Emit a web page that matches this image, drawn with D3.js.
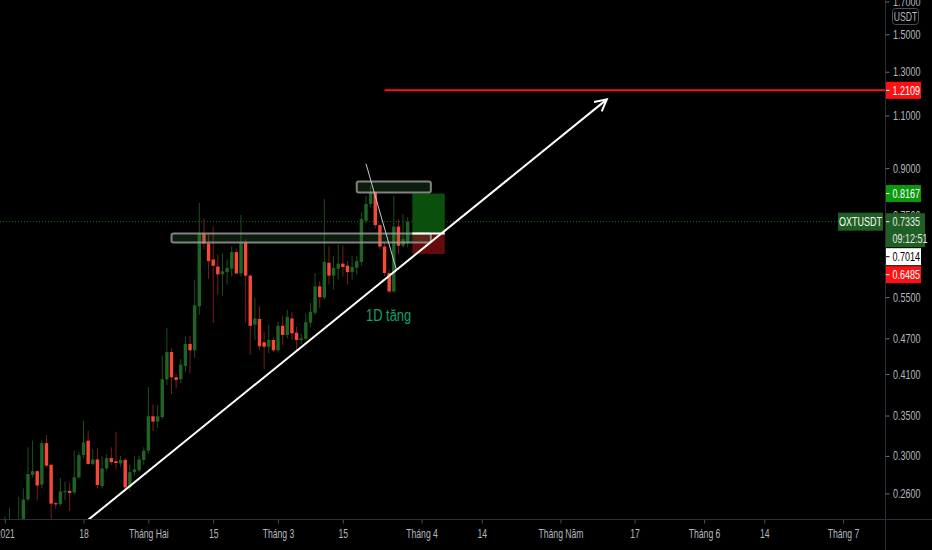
<!DOCTYPE html>
<html>
<head>
<meta charset="utf-8">
<script src="https://cdn.jsdelivr.net/npm/d3@7"></script>
<style>
  html, body { margin: 0; padding: 0; background: #000; overflow: hidden; }
  svg { display: block; }
  text { font-family: "Liberation Sans", Arial, sans-serif; }
</style>
</head>
<body>
<div id="chart"></div>
<script>
// daily OXT/USDT candles
const dates = [
  '2021-01-01','2021-01-02','2021-01-03','2021-01-04','2021-01-05','2021-01-06','2021-01-07','2021-01-08',
  '2021-01-09','2021-01-10','2021-01-11','2021-01-12','2021-01-13','2021-01-14','2021-01-15','2021-01-16',
  '2021-01-17','2021-01-18','2021-01-19','2021-01-20','2021-01-21','2021-01-22','2021-01-23','2021-01-24',
  '2021-01-25','2021-01-26','2021-01-27','2021-01-28','2021-01-29','2021-01-30','2021-01-31','2021-02-01',
  '2021-02-02','2021-02-03','2021-02-04','2021-02-05','2021-02-06','2021-02-07','2021-02-08','2021-02-09',
  '2021-02-10','2021-02-11','2021-02-12','2021-02-13','2021-02-14','2021-02-15','2021-02-16','2021-02-17',
  '2021-02-18','2021-02-19','2021-02-20','2021-02-21','2021-02-22','2021-02-23','2021-02-24','2021-02-25',
  '2021-02-26','2021-02-27','2021-02-28','2021-03-01','2021-03-02','2021-03-03','2021-03-04','2021-03-05',
  '2021-03-06','2021-03-07','2021-03-08','2021-03-09','2021-03-10','2021-03-11','2021-03-12','2021-03-13',
  '2021-03-14','2021-03-15','2021-03-16','2021-03-17','2021-03-18','2021-03-19','2021-03-20','2021-03-21',
  '2021-03-22','2021-03-23','2021-03-24','2021-03-25','2021-03-26','2021-03-27','2021-03-28','2021-03-29'
];
const openPrices = [
  0.228,0.226,0.233,0.222,0.234,0.254,0.279,0.283, 0.269,0.315,0.290,0.2505,0.2495,0.262,0.2625,0.261,
  0.2765,0.301,0.318,0.291,0.296,0.2675,0.286,0.2975, 0.294,0.2915,0.2955,0.266,0.282,0.284,0.2955,0.306,
  0.349,0.342,0.348,0.402,0.446,0.405,0.402,0.423, 0.460,0.449,0.531,0.701,0.675,0.635,0.618,0.600,
  0.605,0.613,0.653,0.602,0.677,0.597,0.495,0.506, 0.463,0.455,0.467,0.449,0.493,0.476,0.507,0.480,
  0.467,0.469,0.499,0.518,0.573,0.549,0.627,0.597, 0.613,0.625,0.620,0.605,0.615,0.629,0.736,0.785,
  0.820,0.724,0.667,0.603,0.562,0.720,0.669,0.677
];
const highPrices = [
  0.238,0.246,0.234,0.257,0.265,0.310,0.318,0.284, 0.318,0.325,0.291,0.2515,0.276,0.272,0.271,0.306,
  0.305,0.343,0.330,0.308,0.309,0.300,0.302,0.310, 0.329,0.300,0.298,0.290,0.300,0.300,0.310,0.390,
  0.365,0.364,0.440,0.489,0.453,0.410,0.434,0.473, 0.474,0.588,0.788,0.743,0.700,0.720,0.647,0.650,
  0.635,0.668,0.662,0.753,0.686,0.600,0.548,0.531, 0.482,0.495,0.473,0.501,0.511,0.524,0.520,0.491,
  0.479,0.517,0.538,0.603,0.584,0.800,0.668,0.643, 0.673,0.670,0.631,0.643,0.643,0.760,0.810,0.842,
  0.822,0.729,0.677,0.611,0.810,0.741,0.755,0.746
];
const lowPrices = [
  0.222,0.221,0.216,0.218,0.231,0.252,0.276,0.253, 0.265,0.287,0.235,0.245,0.248,0.2535,0.243,0.259,
  0.275,0.298,0.290,0.289,0.265,0.265,0.284,0.290, 0.285,0.288,0.262,0.262,0.278,0.282,0.290,0.303,
  0.330,0.334,0.345,0.393,0.380,0.388,0.396,0.413, 0.411,0.436,0.514,0.660,0.590,0.498,0.555,0.552,
  0.577,0.595,0.600,0.595,0.499,0.441,0.467,0.449, 0.418,0.444,0.446,0.445,0.458,0.470,0.467,0.449,
  0.460,0.467,0.490,0.514,0.527,0.545,0.577,0.566, 0.588,0.595,0.577,0.588,0.600,0.620,0.730,0.775,
  0.715,0.660,0.596,0.558,0.558,0.648,0.665,0.665
];
const closePrices = [
  0.232,0.233,0.226,0.234,0.254,0.280,0.283,0.268, 0.315,0.289,0.250,0.2495,0.262,0.2625,0.2605,0.2765,
  0.301,0.316,0.291,0.296,0.2685,0.286,0.2975,0.293, 0.292,0.2955,0.266,0.282,0.285,0.296,0.306,0.349,
  0.342,0.349,0.402,0.446,0.405,0.401,0.425,0.460, 0.449,0.533,0.701,0.675,0.631,0.620,0.600,0.607,
  0.615,0.653,0.602,0.677,0.597,0.493,0.507,0.456, 0.455,0.467,0.449,0.493,0.476,0.510,0.479,0.467,
  0.470,0.500,0.520,0.573,0.550,0.629,0.597,0.615, 0.625,0.617,0.605,0.617,0.631,0.741,0.785,0.820,
  0.724,0.667,0.603,0.562,0.720,0.669,0.686,0.7335
];

// axes
const timeTicks = ['2021-01-01','2021-01-18','2021-02-01','2021-02-15','2021-03-01','2021-03-15',
  '2021-04-01','2021-04-14','2021-05-01','2021-05-17','2021-06-01','2021-06-14','2021-07-01'];
const timeTickLabels = ['2021','18','Tháng Hai','15','Tháng 3','15','Tháng 4','14','Tháng Năm','17','Tháng 6','14','Tháng 7'];
const priceTicks = [0.26, 0.30, 0.35, 0.41, 0.47, 0.55, 0.75, 0.90, 1.10, 1.30, 1.50, 1.70];

// drawings
const zoneTop = ['2021-03-18', '2021-04-03', 0.855, 0.820];
const zoneMid = ['2021-02-06', '2021-04-03', 0.7012, 0.6776];
const positionDates = ['2021-03-30', '2021-04-06'];
const targetPrice = 0.8167;
const entryPrice = 0.7014;
const stopPrice = 0.6485;
const lastPrice = 0.7335;
const resistancePrice = 1.2109;
const resistanceStart = '2021-03-24';
const arrowStart = ['2021-01-19', 0.235];
const arrowEnd = ['2021-05-11', 1.17];
const breakLine = [['2021-03-20', 0.915], ['2021-03-26T14:00', 0.61]];
const noteText = '1D tăng';
const notePos = ['2021-03-20', 0.502];
const symbol = 'OXTUSDT';
const countdown = '09:12:51';

const draw = () => {
    const dimensions = {
        width: 932,
        height: 550,
        plotWidth: 885.5,
        plotHeight: 519.5,
    }
    // the screenshot is horizontally squeezed, so are its glyphs
    const squeeze = 'scale(0.72, 1)';

    const parse = d3.utcParse('%Y-%m-%d');
    const parseAny = s => s.length > 10 ? d3.utcParse('%Y-%m-%dT%H:%M')(s) : parse(s);

    const candles = dates.map((d, i) => ({
        date: parse(d),
        open: openPrices[i],
        high: highPrices[i],
        low: lowPrices[i],
        close: closePrices[i],
    }));

    const svg = d3.select('#chart')
        .append('svg')
        .attr('width', dimensions.width)
        .attr('height', dimensions.height)
        .style('background', '#000');

    svg.append('defs').append('clipPath')
        .attr('id', 'plot-clip')
        .append('rect')
        .attr('width', dimensions.plotWidth)
        .attr('height', dimensions.plotHeight);

    // scales
    const xScale = d3.scaleUtc()
        .domain([parse('2021-01-01'), parse('2021-07-01')])
        .range([4.8, 843]);

    const yScale = d3.scaleLog()
        .domain([0.2349, 1.7096])
        .range([520, 0]);

    const plot = svg.append('g').attr('clip-path', 'url(#plot-clip)');

    // last price dotted line
    plot.append('line')
        .attr('x1', 0).attr('x2', dimensions.plotWidth)
        .attr('y1', yScale(lastPrice)).attr('y2', yScale(lastPrice))
        .attr('stroke', '#1f6b24')
        .attr('stroke-width', 1)
        .attr('stroke-dasharray', '1 2');

    // candles
    const up = d => d.close >= d.open;
    const bodyWidth = 3.4;

    plot.append('g').selectAll('line')
        .data(candles)
        .join('line')
        .attr('x1', d => xScale(d.date))
        .attr('x2', d => xScale(d.date))
        .attr('y1', d => yScale(d.high))
        .attr('y2', d => yScale(d.low))
        .attr('stroke', d => up(d) ? '#1c4f20' : '#7a1c1c')
        .attr('stroke-width', 1);

    plot.append('g').selectAll('rect')
        .data(candles)
        .join('rect')
        .attr('x', d => xScale(d.date) - bodyWidth / 2)
        .attr('y', d => yScale(Math.max(d.open, d.close)))
        .attr('width', bodyWidth)
        .attr('height', d => Math.max(1.2, Math.abs(yScale(d.open) - yScale(d.close))))
        .attr('fill', d => up(d) ? '#1e6424' : '#f7493b');

    // long position tool
    const px0 = xScale(parse(positionDates[0]));
    const px1 = xScale(parse(positionDates[1]));
    plot.append('rect')
        .attr('x', px0).attr('width', px1 - px0)
        .attr('y', yScale(targetPrice))
        .attr('height', yScale(entryPrice) - yScale(targetPrice))
        .attr('fill', '#0b4f0d');
    plot.append('rect')
        .attr('x', px0).attr('width', px1 - px0)
        .attr('y', yScale(entryPrice))
        .attr('height', yScale(stopPrice) - yScale(entryPrice))
        .attr('fill', '#640b0b');

    // zones
    plot.append('g').selectAll('rect')
        .data([zoneTop, zoneMid])
        .join('rect')
        .attr('x', d => xScale(parse(d[0])))
        .attr('width', d => xScale(parse(d[1])) - xScale(parse(d[0])))
        .attr('y', d => yScale(d[2]))
        .attr('height', d => yScale(d[3]) - yScale(d[2]))
        .attr('rx', 2)
        .attr('fill', 'rgba(56,142,60,0.2)')
        .attr('stroke', 'rgba(160,160,160,0.8)')
        .attr('stroke-width', 2);

    plot.append('line')
        .attr('x1', px0).attr('x2', px1)
        .attr('y1', yScale(entryPrice)).attr('y2', yScale(entryPrice))
        .attr('stroke', '#fff')
        .attr('stroke-width', 2);

    // resistance line
    plot.append('line')
        .attr('x1', xScale(parse(resistanceStart))).attr('x2', dimensions.plotWidth)
        .attr('y1', yScale(resistancePrice)).attr('y2', yScale(resistancePrice))
        .attr('stroke', '#ff1010')
        .attr('stroke-width', 2);

    // break line
    plot.append('line')
        .attr('x1', xScale(parseAny(breakLine[0][0]))).attr('y1', yScale(breakLine[0][1]))
        .attr('x2', xScale(parseAny(breakLine[1][0]))).attr('y2', yScale(breakLine[1][1]))
        .attr('stroke', '#c8c8c8')
        .attr('stroke-width', 1);

    // trend arrow
    const a0 = [xScale(parse(arrowStart[0])), yScale(arrowStart[1])];
    const a1 = [xScale(parse(arrowEnd[0])), yScale(arrowEnd[1])];
    plot.append('line')
        .attr('x1', a0[0]).attr('y1', a0[1])
        .attr('x2', a1[0]).attr('y2', a1[1])
        .attr('stroke', '#fff')
        .attr('stroke-width', 2);

    const along = d3.interpolate(a0, a1);
    const g0 = along(0.505), g1 = along(0.535);
    plot.append('line')
        .attr('x1', g0[0]).attr('y1', g0[1])
        .attr('x2', g1[0]).attr('y2', g1[1])
        .attr('stroke', '#6a6a6a')
        .attr('stroke-width', 2);

    const angle = Math.atan2(a1[1] - a0[1], a1[0] - a0[0]);
    const wing = 13, spread = Math.PI / 6.5;
    const headPath = d3.path();
    headPath.moveTo(a1[0] - wing * Math.cos(angle - spread), a1[1] - wing * Math.sin(angle - spread));
    headPath.lineTo(a1[0], a1[1]);
    headPath.lineTo(a1[0] - wing * Math.cos(angle + spread), a1[1] - wing * Math.sin(angle + spread));
    plot.append('path')
        .attr('d', headPath.toString())
        .attr('fill', 'none')
        .attr('stroke', '#fff')
        .attr('stroke-width', 2);

    plot.append('text')
        .attr('transform', `translate(${xScale(parse(notePos[0]))}, ${yScale(notePos[1])}) scale(0.76, 1)`)
        .attr('fill', '#14a06a')
        .style('font-size', '17px')
        .text(noteText);

    // frame lines
    svg.append('line')
        .attr('x1', 0).attr('x2', dimensions.width)
        .attr('y1', dimensions.plotHeight).attr('y2', dimensions.plotHeight)
        .attr('stroke', '#2a2e39');
    svg.append('line')
        .attr('x1', dimensions.plotWidth).attr('x2', dimensions.plotWidth)
        .attr('y1', 0).attr('y2', dimensions.height)
        .attr('stroke', '#2a2e39');

    // time axis
    const xAxis = d3.axisBottom(xScale)
        .tickValues(timeTicks.map(parse))
        .tickFormat((d, i) => timeTickLabels[i])
        .tickSize(4)
        .tickPadding(6);

    const xAxisGroup = svg.append('g')
        .attr('transform', `translate(0, ${dimensions.plotHeight})`)
        .call(xAxis);
    xAxisGroup.select('.domain').remove();
    xAxisGroup.selectAll('line').attr('stroke', '#4a4d57');
    xAxisGroup.selectAll('text')
        .attr('fill', '#b4b7bf')
        .attr('transform', squeeze)
        .style('font-size', '12px');

    // price axis
    const yAxis = d3.axisRight(yScale)
        .tickValues(priceTicks)
        .tickFormat(d3.format('.4f'))
        .tickSize(4)
        .tickPadding(3);

    const yAxisGroup = svg.append('g')
        .attr('transform', `translate(${dimensions.plotWidth}, 0)`)
        .call(yAxis);
    yAxisGroup.select('.domain').remove();
    yAxisGroup.selectAll('line').attr('stroke', '#6a6d77');
    yAxisGroup.selectAll('text')
        .attr('x', 0)
        .attr('transform', `translate(7.5, 0) ${squeeze}`)
        .attr('fill', '#b4b7bf')
        .style('font-size', '12.5px');

    // price labels, pushed down when they overlap
    const labels = [
        {price: resistancePrice, lines: [resistancePrice.toFixed(4)], fill: '#ff1010', color: '#fff', w: 35},
        {price: targetPrice, lines: [targetPrice.toFixed(4)], fill: '#0a990c', color: '#fff', w: 35},
        {price: lastPrice, lines: [lastPrice.toFixed(4), countdown], fill: '#1f5f23', color: '#e8e8e8', w: 39},
        {price: entryPrice, lines: [entryPrice.toFixed(4)], fill: '#ffffff', color: '#000', w: 35},
        {price: stopPrice, lines: [stopPrice.toFixed(4)], fill: '#ff1010', color: '#fff', w: 35},
    ];
    const lineH = 17;
    let prevBottom = -Infinity;
    labels.forEach(l => {
        l.top = Math.max(yScale(l.price) - lineH / 2, prevBottom + 1);
        l.h = lineH * l.lines.length;
        prevBottom = l.top + l.h;
    });

    const labelGroups = svg.append('g').selectAll('g')
        .data(labels)
        .join('g')
        .attr('transform', d => `translate(${dimensions.plotWidth + 0.5}, ${d.top})`);
    labelGroups.append('rect')
        .attr('width', d => d.w)
        .attr('height', d => d.h)
        .attr('fill', d => d.fill);
    labelGroups.append('line')
        .attr('x1', 0).attr('x2', 3.5)
        .attr('y1', lineH / 2).attr('y2', lineH / 2)
        .attr('stroke', d => d.color);
    labelGroups.selectAll('text')
        .data(d => d.lines.map(t => ({t, color: d.color})))
        .join('text')
        .attr('transform', (d, i) => `translate(6.5, ${i * lineH + lineH / 2}) ${squeeze}`)
        .attr('dy', '0.35em')
        .attr('fill', d => d.color)
        .style('font-size', '12.5px')
        .text(d => d.t);

    // symbol label
    const symbolGroup = svg.append('g')
        .attr('transform', `translate(838, ${yScale(lastPrice) - 9})`);
    symbolGroup.append('rect')
        .attr('width', 45).attr('height', 18)
        .attr('fill', '#1f5f23');
    symbolGroup.append('text')
        .attr('transform', `translate(22.5, 9) ${squeeze}`)
        .attr('dy', '0.35em')
        .attr('text-anchor', 'middle')
        .attr('fill', '#fff')
        .style('font-size', '12.5px')
        .text(symbol);

    // currency badge
    const badge = svg.append('g').attr('transform', 'translate(892.5, 8.5)');
    badge.append('rect')
        .attr('width', 26).attr('height', 16).attr('rx', 3)
        .attr('fill', '#000')
        .attr('stroke', '#4a4d57');
    badge.append('text')
        .attr('transform', `translate(13, 8) ${squeeze}`)
        .attr('dy', '0.35em')
        .attr('text-anchor', 'middle')
        .attr('fill', '#b4b7bf')
        .style('font-size', '12px')
        .text('USDT');
}

draw();
</script>
</body>
</html>
